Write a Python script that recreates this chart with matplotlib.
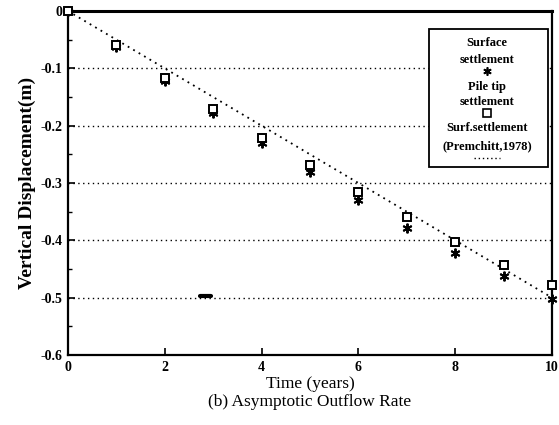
import matplotlib
matplotlib.use("Agg")
import matplotlib.pyplot as plt
from matplotlib.ticker import FixedLocator, FuncFormatter, MultipleLocator
from matplotlib.patches import Rectangle

# Data
years = [0, 1, 2, 3, 4, 5, 6, 7, 8, 9, 10]
surface_settlement = [0.0, -0.062, -0.122, -0.178, -0.231, -0.281, -0.330, -0.378, -0.422, -0.462, -0.503]
pile_tip_settlement = [0.0, -0.060, -0.117, -0.170, -0.222, -0.269, -0.316, -0.360, -0.403, -0.443, -0.478]
premchitt_years = [0, 10]
premchitt_settlement = [0.0, -0.5]
artifact_x = [2.72, 2.95]
artifact_y = [-0.497, -0.497]

x_ticks = [0, 2, 4, 6, 8, 10]
y_ticks = [0, -0.1, -0.2, -0.3, -0.4, -0.5, -0.6]
grid_levels = [-0.1, -0.2, -0.3, -0.4, -0.5]

plt.rcParams['font.family'] = ['Liberation Serif', 'DejaVu Serif']

fig = plt.figure(figsize=(5.59, 4.25), dpi=100)
ax = fig.add_axes([0.1216, 0.1647, 0.8659, 0.8093])

star = (6, 2, 0)
for g in grid_levels:
    ax.axhline(g, color='black', lw=1.0, ls=(0, (1, 2.5)), zorder=1)

ax.plot(premchitt_years, premchitt_settlement, color='black', lw=1.3, ls=(0, (1, 2.5)), zorder=2)
ax.plot(years, surface_settlement, ls='none', marker=star, ms=7, mec='black', mew=1.4,
        zorder=3, clip_on=False)
ax.plot(years, pile_tip_settlement, ls='none', marker='s', ms=6, mfc='white', mec='black', mew=1.4,
        zorder=4, clip_on=False)
ax.plot(artifact_x, artifact_y, color='black', lw=3, solid_capstyle='round', zorder=3)

ax.set_xlim(0, 10)
ax.set_ylim(-0.6, 0)
ax.xaxis.set_major_locator(FixedLocator(x_ticks))
ax.yaxis.set_major_locator(FixedLocator(y_ticks))
ax.yaxis.set_minor_locator(MultipleLocator(0.05))
ax.yaxis.set_major_formatter(FuncFormatter(lambda v, p: '0' if abs(v) < 1e-9 else ('%.1f' % v).replace('\u2212', '-')))
ax.xaxis.set_major_formatter(FuncFormatter(lambda v, p: '%d' % v))
ax.tick_params(axis='both', direction='in', length=5, width=1.2, labelsize=10, pad=4)
ax.tick_params(axis='y', which='minor', direction='in', length=3, width=1)
for lab in ax.get_xticklabels() + ax.get_yticklabels():
    lab.set_fontweight('bold')

for s in ['left', 'bottom', 'right']:
    ax.spines[s].set_linewidth(1.6)
ax.spines['top'].set_linewidth(2.2)

ax.set_ylabel('Vertical Displacement(m)', fontsize=14, fontweight='bold', labelpad=3)
ax.set_xlabel('Time (years)\n(b) Asymptotic Outflow Rate', fontsize=12.5, labelpad=2, linespacing=1.1)

# Custom legend box (axes coordinates)
def ax_x(px):
    return (px - 68) / 484.0

def ax_y(py):
    return 1 - (py - 11) / 344.0

box = Rectangle((ax_x(429), ax_y(167)), ax_x(548) - ax_x(429), ax_y(29) - ax_y(167),
                transform=ax.transAxes, facecolor='white', edgecolor='black', lw=1.3, zorder=10)
ax.add_patch(box)
cx = ax_x(487)
tk = dict(transform=ax.transAxes, ha='center', va='center', fontsize=9, fontweight='bold', zorder=11)
ax.text(cx, ax_y(43), 'Surface', **tk)
ax.text(cx, ax_y(60), 'settlement', **tk)
ax.plot([cx], [ax_y(71)], transform=ax.transAxes, marker=star, ms=6, mec='black', mew=1.2, ls='none', zorder=11, clip_on=False)
ax.text(cx, ax_y(87), 'Pile tip', **tk)
ax.text(cx, ax_y(102), 'settlement', **tk)
ax.plot([cx], [ax_y(113)], transform=ax.transAxes, marker='s', ms=5.5, mfc='white', mec='black', mew=1.2, ls='none', zorder=11, clip_on=False)
ax.text(cx, ax_y(128), 'Surf.settlement', **tk)
ax.text(cx, ax_y(146), '(Premchitt,1978)', **tk)
ax.plot([ax_x(474), ax_x(500)], [ax_y(158), ax_y(158)], transform=ax.transAxes, color='black', lw=1.0, ls=(0, (1, 2)), zorder=11)

fig.savefig('out.png', dpi=100)
